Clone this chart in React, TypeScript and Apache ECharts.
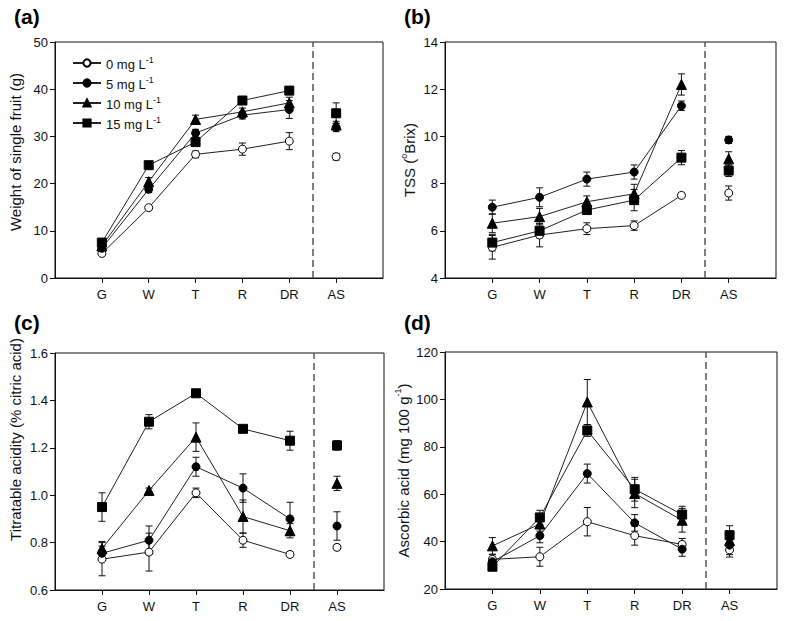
import React, { useEffect, useRef } from 'react';
import * as echarts from 'echarts';

// ---------- data ----------
const categories = ['G', 'W', 'T', 'R', 'DR', 'AS'];
const treatmentDoses = ['0', '5', '10', '15'];

// (a) Weight of single fruit (g)
const weight0 = [5.2, 14.9, 26.2, 27.3, 29.0, 25.7];
const weight5 = [6.3, 18.8, 30.7, 34.5, 35.7, 31.9];
const weight10 = [6.8, 20.4, 33.6, 35.2, 37.1, 32.4];
const weight15 = [7.5, 23.9, 28.8, 37.6, 39.7, 34.9];
const weightErr0 = [0.4, 0.5, 0.7, 1.3, 1.8, 0.7];
const weightErr5 = [0.4, 0.7, 0.8, 0.8, 1.9, 0.9];
const weightErr10 = [0.4, 0.9, 0.9, 0.8, 1.2, 0.8];
const weightErr15 = [0.4, 0.4, 0.5, 0.4, 0.5, 2.2];

// (b) TSS (°Brix)
const tss0 = [5.3, 5.82, 6.09, 6.22, 7.5, 7.6];
const tss5 = [7.0, 7.42, 8.19, 8.49, 11.3, 9.85];
const tss10 = [6.32, 6.6, 7.23, 7.57, 12.2, 9.05];
const tss15 = [5.5, 6.0, 6.88, 7.3, 9.1, 8.55];
const tssErr0 = [0.5, 0.5, 0.25, 0.2, 0.1, 0.3];
const tssErr5 = [0.3, 0.4, 0.3, 0.3, 0.2, 0.15];
const tssErr10 = [0.4, 0.35, 0.25, 0.4, 0.45, 0.3];
const tssErr15 = [0.35, 0.3, 0.15, 0.45, 0.3, 0.25];

// (c) Titratable acidity (% citric acid)
const ta0 = [0.73, 0.76, 1.01, 0.81, 0.75, 0.78];
const ta5 = [0.755, 0.81, 1.12, 1.03, 0.9, 0.87];
const ta10 = [0.775, 1.02, 1.245, 0.91, 0.85, 1.05];
const ta15 = [0.95, 1.31, 1.43, 1.28, 1.23, 1.21];
const taErr0 = [0.07, 0.08, 0.02, 0.03, 0.01, 0.01];
const taErr5 = [0.03, 0.06, 0.04, 0.06, 0.07, 0.06];
const taErr10 = [0.03, 0.01, 0.06, 0.07, 0.03, 0.03];
const taErr15 = [0.06, 0.03, 0.01, 0.01, 0.04, 0.02];

// (d) Ascorbic acid (mg 100 g-1)
const aa0 = [32.5, 33.6, 48.4, 42.5, 38.8, 36.5];
const aa5 = [31.5, 42.5, 68.7, 47.9, 36.8, 38.5];
const aa10 = [38.2, 47.4, 98.9, 60.3, 49.0, 40.5];
const aa15 = [29.4, 50.2, 86.9, 62.1, 51.4, 42.7];
const aaErr0 = [2, 4, 6, 4, 2.5, 3];
const aaErr5 = [2, 3, 4, 3.5, 3, 4];
const aaErr10 = [3.5, 3, 9.5, 6, 5, 4];
const aaErr15 = [1.5, 3, 2.5, 5, 3.5, 4];

const yTicksA = [0, 50, 10];
const yTicksB = [4, 14, 2];
const yTicksC = [0.6, 1.6, 0.2];
const yTicksD = [20, 120, 20];

// ---------- styling ----------
const FONT = '"Liberation Sans", Arial, Helvetica, sans-serif';
const INK = '#111';

const symbolStyles = [
  { symbol: 'circle', size: 8, fill: '#fff' },
  { symbol: 'circle', size: 8, fill: '#000' },
  { symbol: 'triangle', size: 10, fill: '#000' },
  { symbol: 'rect', size: 9, fill: '#000' },
];

const legendNames = treatmentDoses.map((d) => `${d} mg L-1`);

type Panel = {
  key: string;
  label: string;
  labelPos: [number, number];
  grid: { left: number; top: number; width: number; height: number };
  yTicks: number[];
  decimals: number;
  yName: string;
  nameGap: number;
  namePad: number[];
  means: number[][];
  errs: number[][];
};

const panels: Panel[] = [
  {
    key: 'a', label: '(a)', labelPos: [14, 6],
    grid: { left: 55, top: 42, width: 328, height: 236 },
    yTicks: yTicksA, decimals: 0,
    yName: '{t|Weight of single fruit (g)}', nameGap: 32, namePad: [0, 0, 0, 16],
    means: [weight0, weight5, weight10, weight15],
    errs: [weightErr0, weightErr5, weightErr10, weightErr15],
  },
  {
    key: 'b', label: '(b)', labelPos: [404, 6],
    grid: { left: 445, top: 42, width: 331, height: 236 },
    yTicks: yTicksB, decimals: 0,
    yName: '{t|TSS (}{s|o}{t|Brix)}', nameGap: 28, namePad: [0, 0, 0, 0],
    means: [tss0, tss5, tss10, tss15],
    errs: [tssErr0, tssErr5, tssErr10, tssErr15],
  },
  {
    key: 'c', label: '(c)', labelPos: [14, 312],
    grid: { left: 55, top: 353, width: 329, height: 237 },
    yTicks: yTicksC, decimals: 1,
    yName: '{t|Titratable acidity (% citric acid)}', nameGap: 32, namePad: [0, 0, 0, 64],
    means: [ta0, ta5, ta10, ta15],
    errs: [taErr0, taErr5, taErr10, taErr15],
  },
  {
    key: 'd', label: '(d)', labelPos: [404, 312],
    grid: { left: 445, top: 352, width: 332, height: 237 },
    yTicks: yTicksD, decimals: 0,
    yName: '{t|Ascorbic acid (mg 100 g}{s|-1}{t|)}', nameGap: 34, namePad: [0, 0, 0, 0],
    means: [aa0, aa5, aa10, aa15],
    errs: [aaErr0, aaErr5, aaErr10, aaErr15],
  },
];

const errorBarRender = (params: any, api: any) => {
  const x = api.value(0);
  const y = api.value(1);
  const e = api.value(2);
  const top = api.coord([x, y + e]);
  const bot = api.coord([x, y - e]);
  const w = 3.5;
  const style = { stroke: INK, lineWidth: 1 };
  return {
    type: 'group',
    children: [
      { type: 'line', shape: { x1: top[0], y1: top[1], x2: bot[0], y2: bot[1] }, style },
      { type: 'line', shape: { x1: top[0] - w, y1: top[1], x2: top[0] + w, y2: top[1] }, style },
      { type: 'line', shape: { x1: bot[0] - w, y1: bot[1], x2: bot[0] + w, y2: bot[1] }, style },
    ],
  };
};

function buildOption() {
  const grids: any[] = [];
  const xAxes: any[] = [];
  const yAxes: any[] = [];
  const series: any[] = [];
  const graphics: any[] = [];

  panels.forEach((p, i) => {
    grids.push({
      ...p.grid,
      show: true,
      borderColor: INK,
      borderWidth: 1,
      backgroundColor: 'transparent',
    });
    xAxes.push({
      type: 'value',
      gridIndex: i,
      min: 0,
      max: 7,
      interval: 1,
      splitLine: { show: false },
      axisLine: { show: true, lineStyle: { color: INK, width: 1 } },
      axisTick: { show: true, inside: false, length: 5, customValues: [1, 2, 3, 4, 5, 6], lineStyle: { color: INK } },
      axisLabel: {
        customValues: [1, 2, 3, 4, 5, 6],
        formatter: (v: number) => categories[Math.round(v) - 1] ?? '',
        fontFamily: FONT,
        fontSize: 13,
        color: INK,
        margin: 10,
      },
    });
    const [ymin, ymax, yint] = p.yTicks;
    yAxes.push({
      type: 'value',
      gridIndex: i,
      min: ymin,
      max: ymax,
      interval: yint,
      splitLine: { show: false },
      axisLine: { show: true, lineStyle: { color: INK, width: 1 } },
      axisTick: { show: true, inside: false, length: 5, lineStyle: { color: INK } },
      axisLabel: {
        formatter: (v: number) => v.toFixed(p.decimals),
        fontFamily: FONT,
        fontSize: 13,
        color: INK,
        margin: 7,
      },
      name: p.yName,
      nameLocation: 'middle',
      nameGap: p.nameGap,
      nameRotate: 90,
      nameTextStyle: {
        fontFamily: FONT,
        color: INK,
        padding: p.namePad,
        rich: {
          t: { fontFamily: FONT, fontSize: 15, color: INK, lineHeight: 18, verticalAlign: 'bottom' },
          s: { fontFamily: FONT, fontSize: 9, color: INK, lineHeight: 18, verticalAlign: 'top' },
        },
      },
    });

    graphics.push({
      type: 'text',
      left: p.labelPos[0],
      top: p.labelPos[1],
      style: { text: p.label, font: `bold 21px ${FONT}`, fill: '#000' },
    });

    // error bars
    p.means.forEach((m, t) => {
      series.push({
        type: 'custom',
        name: `${p.key}-err-${t}`,
        xAxisIndex: i,
        yAxisIndex: i,
        renderItem: errorBarRender,
        encode: { x: 0, y: 1 },
        data: m.map((v, k) => [k + 1, v, p.errs[t][k]]),
        z: 2,
        silent: true,
      });
    });

    // lines + AS points
    p.means.forEach((m, t) => {
      const st = symbolStyles[t];
      const itemStyle = { color: st.fill, borderColor: '#000', borderWidth: 1, opacity: 1 };
      const line: any = {
        type: 'line',
        name: i === 0 ? legendNames[t] : `${p.key}-${t}`,
        xAxisIndex: i,
        yAxisIndex: i,
        data: m.slice(0, 5).map((v, k) => [k + 1, v]),
        symbol: st.symbol,
        symbolSize: st.size,
        showAllSymbol: true,
        itemStyle,
        lineStyle: { color: '#222', width: 1 },
        z: 3 + t,
        silent: true,
      };
      if (t === 0) {
        line.markLine = {
          silent: true,
          symbol: ['none', 'none'],
          label: { show: false },
          lineStyle: { type: [7, 4], color: '#555', width: 1.5 },
          data: [{ xAxis: 5.5 }],
        };
      }
      series.push(line);
      series.push({
        type: 'scatter',
        name: i === 0 ? legendNames[t] : `${p.key}-${t}`,
        xAxisIndex: i,
        yAxisIndex: i,
        data: [[6, m[5]]],
        symbol: st.symbol,
        symbolSize: st.size,
        itemStyle,
        z: 3 + t,
        silent: true,
      });
    });
  });

  return {
    animation: false,
    backgroundColor: '#fff',
    grid: grids,
    xAxis: xAxes,
    yAxis: yAxes,
    series,
    graphic: graphics,
    legend: {
      data: legendNames,
      orient: 'vertical',
      left: 67,
      top: 50,
      itemWidth: 28,
      itemHeight: 9,
      itemGap: 4,
      selectedMode: false,
      formatter: (name: string) => `{a|${name.replace(' L-1', ' L')}}{s|-1}`,
      textStyle: {
        fontFamily: FONT,
        fontSize: 13,
        color: INK,
        rich: {
          a: { fontFamily: FONT, fontSize: 13, color: INK, lineHeight: 16, verticalAlign: 'bottom' },
          s: { fontFamily: FONT, fontSize: 9, color: INK, lineHeight: 16, verticalAlign: 'top' },
        },
      },
    },
  };
}

export default function App() {
  const ref = useRef<HTMLDivElement>(null);
  useEffect(() => {
    if (!ref.current) return;
    const chart = echarts.init(ref.current, null, { renderer: 'svg' });
    chart.setOption(buildOption() as any);
    return () => chart.dispose();
  }, []);
  return (
    <div
      ref={ref}
      style={{ position: 'absolute', left: 0, top: 0, width: 787, height: 621, background: '#fff' }}
    />
  );
}
